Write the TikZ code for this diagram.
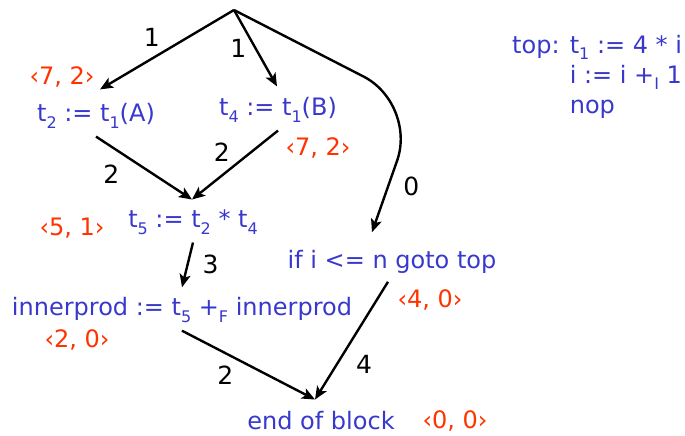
\documentclass[tikz,border=0pt]{standalone}
\usepackage{fontspec}
\setmainfont{DejaVu Sans}
\usetikzlibrary{arrows.meta,positioning}
\definecolor{stmtblue}{RGB}{56,56,204}
\definecolor{costred}{RGB}{255,51,0}
\newcommand{\lo}[1]{\raisebox{-0.5ex}{\fontsize{16}{16}\selectfont #1}}

\begin{document}
\begin{tikzpicture}[x=1pt,y=-1pt,
  stmt/.style={text=stmtblue,font=\fontsize{24}{30}\selectfont,inner xsep=2pt,inner ysep=8pt},
  cost/.style={text=costred,font=\fontsize{24}{28}\selectfont,inner sep=0pt},
  wt/.style={text=black,font=\fontsize{25}{28}\selectfont,inner sep=2pt},
  arr/.style={-{Stealth[length=13pt,width=11pt,inset=3pt]},line width=2.4pt}]
\useasboundingbox (0,0) rectangle (685,436);

% --- statements of the block ---
\coordinate (root) at (234,10);
\node[stmt] (t2)  at (96,116)  {t\lo{2} := t\lo{1}(A)};
\node[stmt] (t4)  at (278,110) {t\lo{4} := t\lo{1}(B)};
\node[stmt] (t5)  at (193,222) {t\lo{5} := t\lo{2} * t\lo{4}};
\node[stmt] (ip)  at (182,310) {innerprod := t\lo{5} +\lo{F} innerprod};
\node[stmt] (ifs) at (392,262) {if i <= n goto top};
\node[stmt] (eob) at (321,421) {end of block};

% --- <latency, delay> pairs ---
\node[cost] (c2)  at (62,77)   {‹7, 2›};
\node[cost] (c4)  at (318,148) {‹7, 2›};
\node[cost] (c5)  at (72,228)  {‹5, 1›};
\node[cost] (cip) at (77,340)  {‹2, 0›};
\node[cost] (cif) at (430,300) {‹4, 0›};
\node[cost] (ceb) at (455,421) {‹0, 0›};

% --- loop body listing ---
\node[stmt,anchor=north west,align=left,inner sep=0pt] (top) at (512,32)
  {\begin{tabular}{@{}l@{ }l@{}}top: & t\lo{1} := 4 * i\\ & i := i +\lo{I} 1\\ & nop\end{tabular}};

% --- dependence edges ---
\draw[arr] (root) -- node[wt,above left=0pt and 4pt]{1} ([xshift=4pt,yshift=6pt]t2.north);
\draw[arr] (root) -- node[wt,left=6pt]{1} ([xshift=-1pt,yshift=3pt]t4.north);
\coordinate (bend) at (417,104);
\draw[arr,rounded corners=60pt] (root) -- (bend) -- node[wt,pos=0.64,right=12pt]{0} ([xshift=-20pt,yshift=10pt]ifs.north);
\draw[arr] (t2.south) -- node[wt,below left=0pt and 12pt,pos=0.4]{2} ([xshift=-1pt,yshift=2pt]t5.north);
\draw[arr] (t4.south) -- node[wt,above left=0pt and 2pt]{2} ([xshift=-1pt,yshift=2pt]t5.north);
\draw[arr] (t5.south) -- node[wt,right=12pt]{3} ([yshift=2pt]ip.north);
\draw[arr] (ip.south) -- node[wt,below left=-2pt and 12pt]{2} ([xshift=-6pt,yshift=4pt]eob.north);
\draw[arr] ([xshift=-4pt]ifs.south) -- node[wt,pos=0.7,right=16pt]{4} ([xshift=-6pt,yshift=4pt]eob.north);
\end{tikzpicture}
\end{document}
